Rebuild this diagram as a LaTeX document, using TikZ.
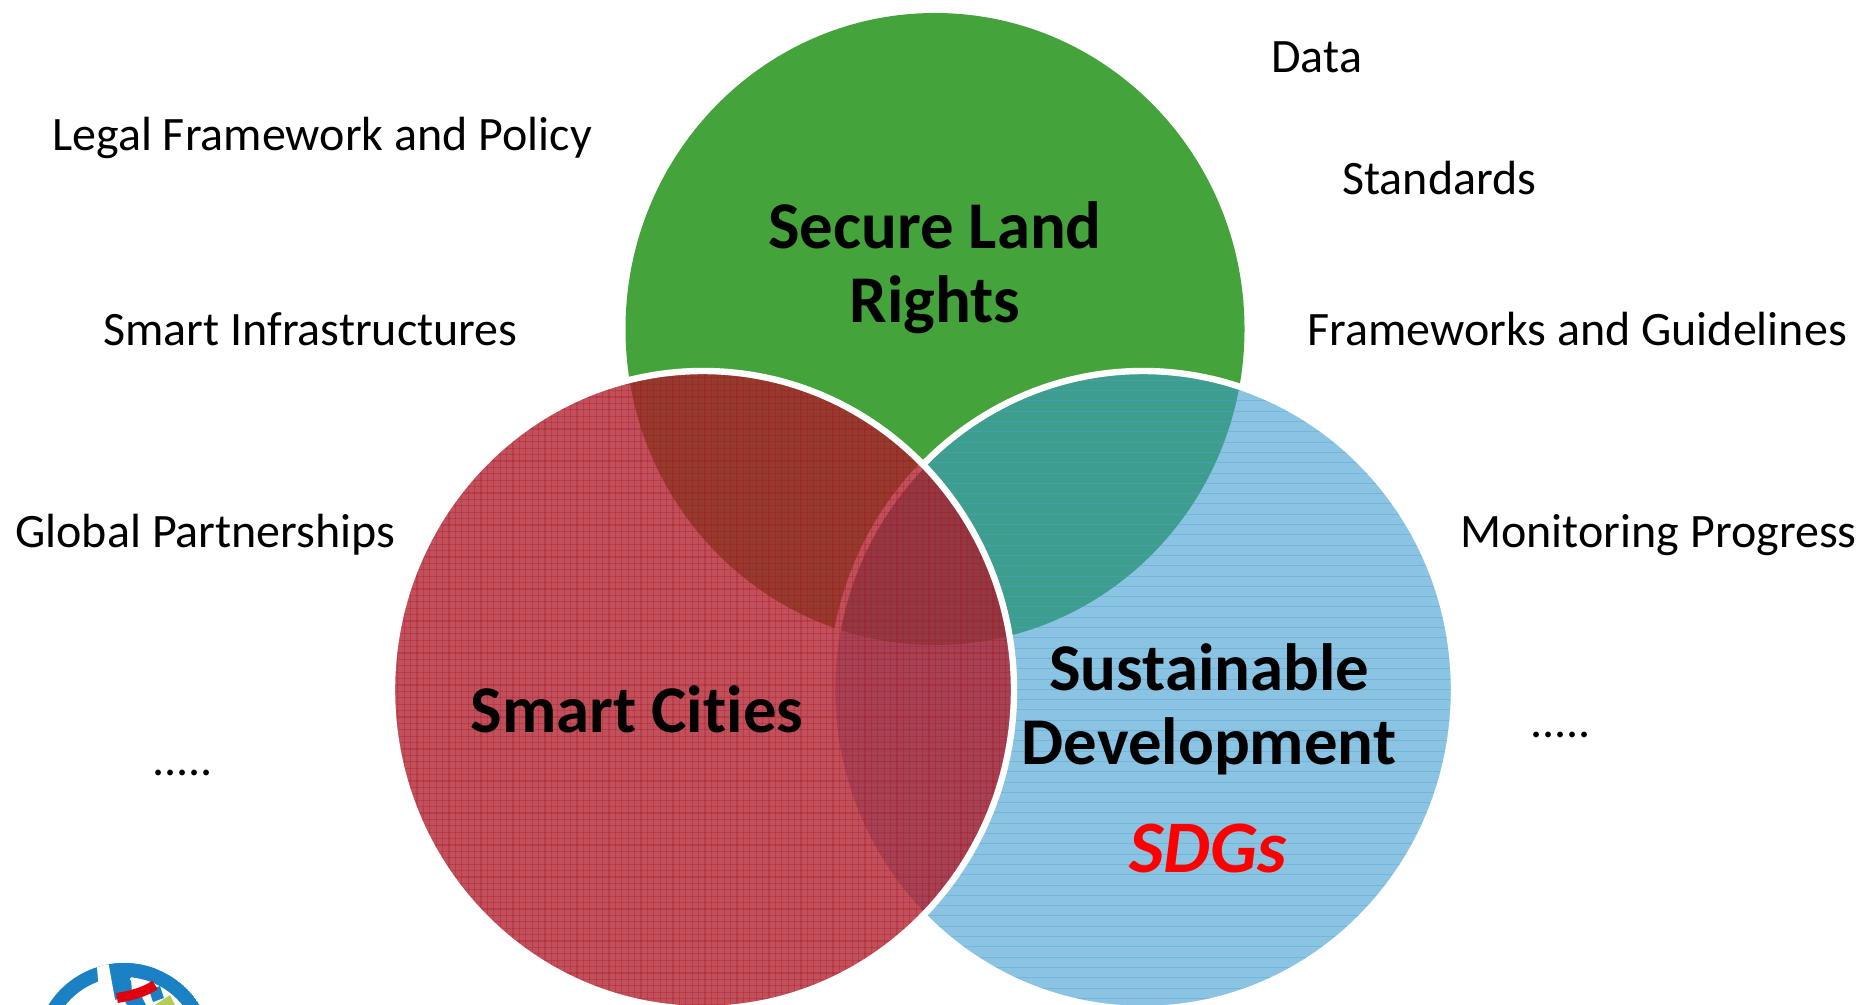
\documentclass[tikz,border=0pt]{standalone}
\usepackage{fontspec}
\setmainfont[Ligatures={NoCommon}]{Carlito}
\definecolor{cgreen}{HTML}{45A33B}
\definecolor{cblue}{RGB}{56,153,205}
\definecolor{cred}{RGB}{175,25,40}
\definecolor{cdot}{RGB}{165,20,35}
\definecolor{cline}{RGB}{79,163,209}
\definecolor{logoblue}{HTML}{1A82C4}
\tikzset{
  lbl/.style={inner sep=0pt,font=\fontsize{24}{28}\selectfont,anchor=base west},
  ttl/.style={inner sep=0pt,font=\fontsize{33.4}{37}\selectfont\bfseries,align=center,text=black},
  ring/.style={white,line width=3.2pt},
}
\begin{document}
\begin{tikzpicture}[x=0.5pt,y=-0.5pt]
\useasboundingbox (0,0) rectangle (1861,1005);
\begin{scope}
\clip (0,0) rectangle (1861,1005);
% logo
\begin{scope}
\clip (124,1052) circle (89);
\fill[logoblue,even odd rule] (124,1052) circle (89) (124,1052) circle (75);
\fill[logoblue] (107,962) -- (114,1000) -- (132,996) -- (131,975) -- (162,982) -- (150,958) -- cycle;
\fill[white] (98,955) -- (107,955) -- (116,1005) -- (100,1005) -- (97,967) -- cycle;
\end{scope}
\draw[white,line width=1.5pt] (131,978) -- (147,1005);
\fill[logoblue] (125,1001) -- (142,997) -- (146,1005) -- (127,1005) -- cycle;
\fill[logoblue] (149,990) -- (160,986) -- (164,998) -- (153,1002) -- cycle;
\fill[color={rgb,255:red,181;green,204;blue,90}] (155,1005) -- (170,995) -- (175,1005) -- cycle;
\draw[color={rgb,255:red,224;green,0;blue,16},line width=5pt] (117,998) .. controls (130,996) and (145,992) .. (155,985);
% green circle
\fill[cgreen] (935,329) ellipse [x radius=309.5,y radius=316];
% blue circle
\fill[cblue,fill opacity=.58] (1143,690) ellipse [x radius=311,y radius=319];
\begin{scope}
\clip (1143,690) ellipse [x radius=311,y radius=319];
\foreach \i in {0,...,66} \draw[cline,opacity=.4,line width=.5pt] (820,{370+10.3*\i}) -- (1460,{370+10.3*\i});
\end{scope}
\draw[ring] (1143,690) ellipse [x radius=311,y radius=319];
% red circle
\fill[cred,fill opacity=.76] (703,690) ellipse [x radius=311,y radius=319];
\begin{scope}
\clip (703,690) ellipse [x radius=311,y radius=319];
\foreach \i in {0,...,100} \draw[cdot,opacity=.3,line width=.55pt] ({385+6.4*\i},365) -- ({385+6.4*\i},1010);
\foreach \i in {0,...,101} \draw[cdot,opacity=.3,line width=.55pt] (385,{365+6.4*\i}) -- (1020,{365+6.4*\i});
\end{scope}
\draw[ring] (703,690) ellipse [x radius=311,y radius=319];
\end{scope}
\node[ttl] (secure) at (935,268) {Secure Land\\Rights};
\node[ttl] (smart) at (637,709) {Smart Cities};
\node[ttl] (sust) at (1209,709) {Sustainable\\Development};
\node[ttl,text=red,font=\fontsize{37}{40}\selectfont\bfseries\itshape] (sdgs) at (1208,848) {SDGs};
\node[lbl] (l1) at (52,151) {Legal Framework and Policy};
\node[lbl] (l2) at (103,345) {Smart Infrastructures};
\node[lbl] (l3) at (15,547) {Global Partnerships};
\node[lbl] (l4) at (152,775) {.....};
\node[lbl] (r1) at (1271,73) {Data};
\node[lbl] (r2) at (1342,195) {Standards};
\node[lbl] (r3) at (1307,345) {Frameworks and Guidelines};
\node[lbl] (r4) at (1460,547) {Monitoring Progress};
\node[lbl] (r5) at (1530,737) {.....};
\end{tikzpicture}
\end{document}
